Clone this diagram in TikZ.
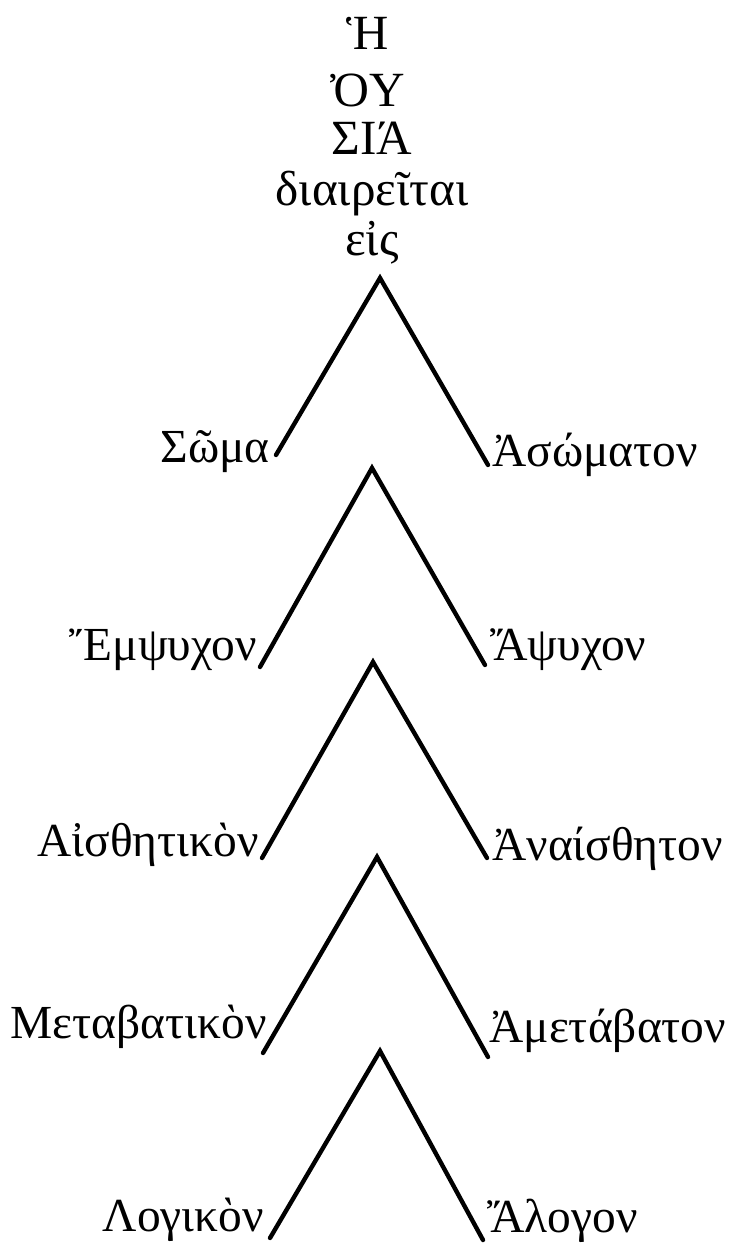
\documentclass[tikz,border=0pt]{standalone}
\usepackage{fontspec}
\setmainfont{Liberation Serif}

\begin{document}
\begin{tikzpicture}[x=0.02cm, y=-0.02cm]
\tikzset{
  br/.style={line width=2.5pt, line cap=round},
  lf/.style={font=\fontsize{27}{30}\selectfont, inner sep=0pt},
  lft/.style={lf, anchor=base east},
  rgt/.style={lf, anchor=base west},
  hd/.style={font=\fontsize{28}{30}\selectfont, inner sep=0pt, anchor=base}}
\useasboundingbox (0,0) rectangle (741,1243);

% ---------------- heading ----------------
\node[hd] (h1) at (368,50)  {Ἡ};
\node[hd] (h2) at (368,107) {ὈΥ};
\node[hd] (h3) at (372,155) {ΣΙΆ};
\node[hd] (h4) at (372,206) {διαιρεῖται};
\node[hd] (h5) at (372,256) {εἰς};

% ---------------- first division ----------------
\coordinate (a1) at (380,278);
\coordinate (l1) at (276,455);
\coordinate (r1) at (488,465);
\draw[br] (l1) -- (a1) -- (r1);
\node[lft] (soma)     at (270,462) {Σῶμα};
\node[rgt] (asomaton) at (492,466) {Ἀσώματον};

% ---------------- second division ----------------
\coordinate (a2) at (372,468);
\coordinate (l2) at (260,667);
\coordinate (r2) at (485,665);
\draw[br] (l2) -- (a2) -- (r2);
\node[lft] (empsychon) at (257,660) {Ἔμψυχον};
\node[rgt] (apsychon)  at (490,660) {Ἄψυχον};

% ---------------- third division ----------------
\coordinate (a3) at (373,662);
\coordinate (l3) at (262,858);
\coordinate (r3) at (487,858);
\draw[br] (l3) -- (a3) -- (r3);
\node[lft] (aisthetikon)  at (259,856) {Αἰσθητικὸν};
\node[rgt] (anaistheton)  at (492,860) {Ἀναίσθητον};

% ---------------- fourth division ----------------
\coordinate (a4) at (377,857);
\coordinate (l4) at (263,1053);
\coordinate (r4) at (488,1057);
\draw[br] (l4) -- (a4) -- (r4);
\node[lft] (metabatikon) at (267,1038) {Μεταβατικὸν};
\node[rgt] (ametabaton)  at (489,1042) {Ἀμετάβατον};

% ---------------- fifth division ----------------
\coordinate (a5) at (380,1051);
\coordinate (l5) at (270,1238);
\coordinate (r5) at (483,1240);
\draw[br] (l5) -- (a5) -- (r5);
\node[lft] (logikon) at (264,1231) {Λογικὸν};
\node[rgt] (alogon)  at (487,1232) {Ἄλογον};
\end{tikzpicture}
\end{document}
